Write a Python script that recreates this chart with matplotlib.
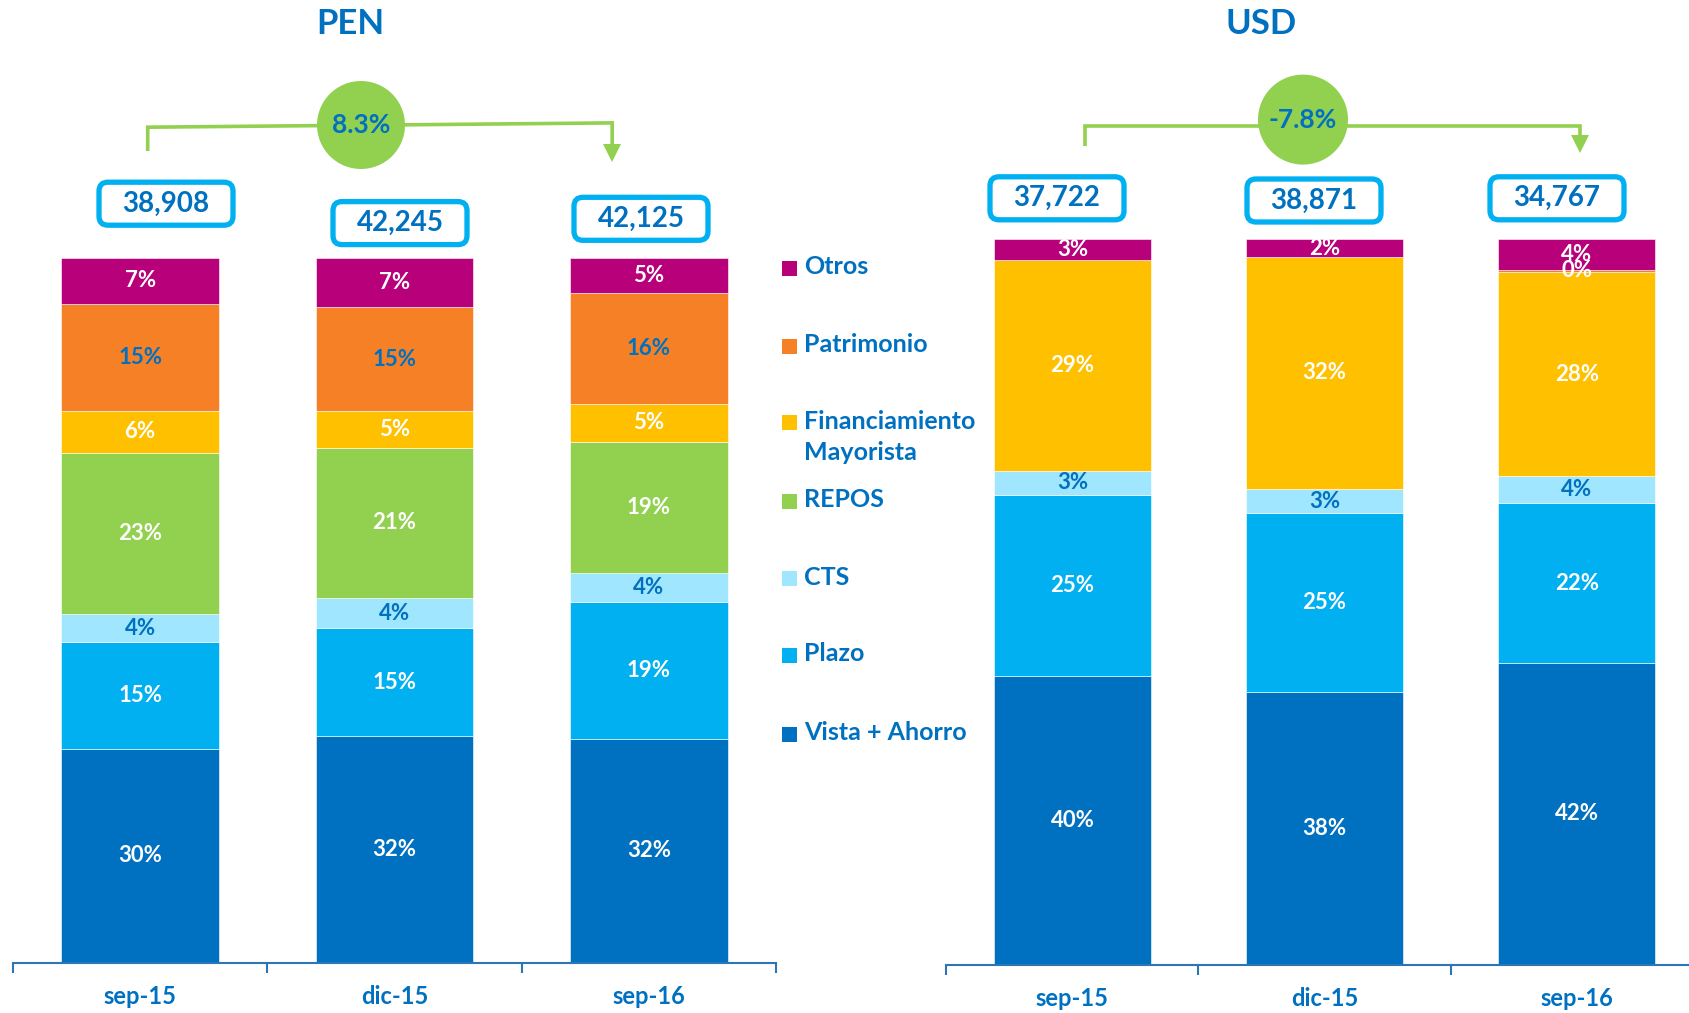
import matplotlib
matplotlib.use("Agg")
import matplotlib.pyplot as plt
from matplotlib.patches import FancyBboxPatch, Rectangle, Circle
import numpy as np

plt.rcParams['font.family'] = ['Lato', 'DejaVu Sans']
plt.rcParams['font.weight'] = 'bold'

# ---------------- data ----------------
periods = ["sep-15", "dic-15", "sep-16"]
series = ["Vista + Ahorro", "Plazo", "CTS", "REPOS",
          "Financiamiento\nMayorista", "Patrimonio", "Otros"]

pen_vista = [30.3, 32.1, 31.7]
pen_plazo = [15.1, 15.3, 19.4]
pen_cts = [4.0, 4.3, 4.1]
pen_repos = [22.9, 21.3, 18.7]
pen_fin_may = [6.0, 5.2, 5.4]
pen_patrimonio = [15.1, 14.8, 15.7]
pen_otros = [6.6, 7.0, 5.0]

usd_vista = [39.8, 37.6, 41.6]
usd_plazo = [25.0, 24.6, 22.0]
usd_cts = [3.3, 3.4, 3.7]
usd_repos = [0.0, 0.0, 0.0]
usd_fin_may = [29.1, 32.0, 28.2]
usd_patrimonio = [0.0, 0.0, 0.3]
usd_otros = [2.8, 2.4, 4.2]

pen_totals = ["38,908", "42,245", "42,125"]
usd_totals = ["37,722", "38,871", "34,767"]
pen_growth = "8.3%"
usd_growth = "-7.8%"

# ---------------- style ----------------
colors = ["#0070C0", "#00B0F0", "#A0E6FF", "#92D050",
          "#FFC000", "#F58025", "#B8007A"]
DARK = "#0070C0"
WHITE = "#FFFFFF"
pen_label_colors = [WHITE, WHITE, DARK, WHITE, WHITE, DARK, WHITE]
usd_label_colors = [WHITE, WHITE, DARK, WHITE, WHITE, WHITE, WHITE]
AXIS_COL = "#2E75B6"
GREEN = "#92D050"
BOX = "#00B0F0"

W, H = 1690, 1013
fig = plt.figure(figsize=(W / 100, H / 100), dpi=100)


def make_axes(left_px, base_px, right_px, top100_px):
    height_px = base_px
    ax = fig.add_axes([left_px / W, (H - base_px) / H,
                       (right_px - left_px) / W, height_px / H])
    ymax = base_px / (base_px - top100_px) * 100
    ax.set_ylim(0, ymax)
    ax.set_xlim(-0.5, 2.5)
    return ax


def draw_panel(ax, data, label_colors, width):
    x = np.arange(len(periods))
    bottom = np.zeros(len(periods))
    for vals, col, lc in zip(data, colors, label_colors):
        vals = np.array(vals)
        ax.bar(x, vals, width=width, bottom=bottom, color=col,
               edgecolor="white", linewidth=0.4)
        for i, v in enumerate(vals):
            if v > 0:
                ax.text(x[i], bottom[i] + v / 2, f"{round(v)}%",
                        ha="center", va="center", color=lc,
                        fontsize=16, fontweight="bold")
        bottom = bottom + vals
    for s in ["top", "left", "right"]:
        ax.spines[s].set_visible(False)
    ax.spines["bottom"].set_color(AXIS_COL)
    ax.spines["bottom"].set_linewidth(1.5)
    ax.set_yticks([])
    ax.set_xticks(x)
    ax.set_xticklabels(periods, fontsize=17, fontweight="bold", color=DARK)
    ax.tick_params(axis="x", which="major", length=0, pad=16)
    ax.set_xticks([-0.5, 0.5, 1.5, 2.5], minor=True)
    ax.tick_params(axis="x", which="minor", length=7, width=1.5,
                   color=AXIS_COL, direction="out")
    ax.set_facecolor("none")


pen_data = [pen_vista, pen_plazo, pen_cts, pen_repos, pen_fin_may,
            pen_patrimonio, pen_otros]
usd_data = [usd_vista, usd_plazo, usd_cts, usd_repos, usd_fin_may,
            usd_patrimonio, usd_otros]

ax1 = make_axes(13, 962.5, 776, 257.6)
draw_panel(ax1, pen_data, pen_label_colors, 0.619)
ax2 = make_axes(946.3, 964.6, 1702.9, 239.3)
draw_panel(ax2, usd_data, usd_label_colors, 0.624)

# ---------------- overlay (pixel coordinates) ----------------
ov = fig.add_axes([0, 0, 1, 1], zorder=5)
ov.set_xlim(0, W)
ov.set_ylim(H, 0)
ov.axis("off")
ov.set_facecolor("none")

ov.text(350, 24, "PEN", ha="center", va="center", fontsize=25,
        fontweight="bold", color=DARK)
ov.text(1261, 24, "USD", ha="center", va="center", fontsize=25,
        fontweight="bold", color=DARK)


def total_box(cx, cy, txt):
    bw, bh = 134, 43
    p = FancyBboxPatch((cx - bw / 2, cy - bh / 2), bw, bh,
                       boxstyle="round,pad=0,rounding_size=9",
                       facecolor="white", edgecolor=BOX, linewidth=3.8)
    ov.add_patch(p)
    ov.text(cx, cy, txt, ha="center", va="center", fontsize=20,
            fontweight="bold", color=DARK)


pen_box_pos = [(166, 203.7), (400, 223.1), (641, 218.8)]
usd_box_pos = [(1057, 198.3), (1314, 200.5), (1557, 198.3)]
for (cx, cy), t in zip(pen_box_pos, pen_totals):
    total_box(cx, cy, t)
for (cx, cy), t in zip(usd_box_pos, usd_totals):
    total_box(cx, cy, t)


def bracket(x0, y0, y1, x1, y2, ytip, circ, r, txt):
    ov.plot([x0, x0, x1, x1], [y0, y1, y2, ytip - 12], color=GREEN,
            lw=2.6, solid_capstyle="butt", solid_joinstyle="miter")
    ov.plot([x1], [ytip - 7], marker="v", markersize=13, color=GREEN,
            markeredgewidth=0)
    ov.add_patch(Circle(circ, r, facecolor=GREEN, edgecolor="none"))
    ov.text(circ[0], circ[1], txt, ha="center", va="center", fontsize=19,
            fontweight="bold", color=DARK)


bracket(147.7, 151, 127.2, 612.2, 122.9, 160, (361, 125), 44, pen_growth)
bracket(1085.3, 145.5, 126.1, 1580, 126.1, 151, (1303, 119.6), 45, usd_growth)

legend_rows = [("Otros", 6, 268.4), ("Patrimonio", 5, 346.0),
               ("Financiamiento\nMayorista", 4, 422.5), ("REPOS", 3, 501.2),
               ("CTS", 2, 578.8), ("Plazo", 1, 655.3),
               ("Vista + Ahorro", 0, 734.0)]
for lab, idx, yc in legend_rows:
    ov.add_patch(Rectangle((782.5, yc - 7.5), 15, 15,
                           facecolor=colors[idx], edgecolor="none"))
    ov.text(804, yc - 13, lab, ha="left", va="top", fontsize=18,
            fontweight="bold", color=DARK, linespacing=1.45)

fig.savefig("out.png", dpi=100)
